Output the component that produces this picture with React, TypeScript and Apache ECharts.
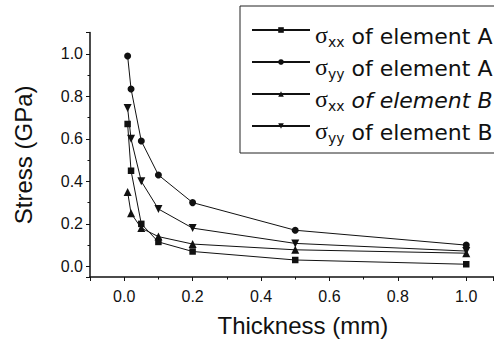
import React, { useEffect, useRef } from "react";
import * as echarts from "echarts";

const thickness = [0.01, 0.02, 0.05, 0.1, 0.2, 0.5, 1.0];
const sxxA = [0.67, 0.45, 0.2, 0.115, 0.07, 0.03, 0.01];
const syyA = [0.99, 0.835, 0.59, 0.43, 0.3, 0.17, 0.1];
const sxxB = [0.35, 0.25, 0.18, 0.14, 0.105, 0.078, 0.062];
const syyB = [0.745, 0.6, 0.4, 0.27, 0.18, 0.108, 0.072];

const seriesNames = [
  "σxx of element A",
  "σyy of element A",
  "σxx of element B",
  "σyy of element B",
];
const legendParts: Record<string, { sub: string; text: string; italic: boolean }> = {
  "σxx of element A": { sub: "xx", text: " of element A", italic: false },
  "σyy of element A": { sub: "yy", text: " of element A", italic: false },
  "σxx of element B": { sub: "xx", text: " of element B", italic: true },
  "σyy of element B": { sub: "yy", text: " of element B", italic: false },
};

const xTitle = "Thickness (mm)";
const yTitle = "Stress (GPa)";

const pairs = (ys: number[]) => thickness.map((x, i) => [x, ys[i]]);

export default function App() {
  const ref = useRef<HTMLDivElement>(null);
  useEffect(() => {
    if (!ref.current) return;
    const chart = echarts.init(ref.current, null, { renderer: "svg" });
    const ink = "#111";
    const mkSeries = (name: string, ys: number[], symbol: string, size: number, rotate = 0) => ({
      name,
      type: "line",
      data: pairs(ys),
      symbol,
      symbolSize: size,
      symbolRotate: rotate,
      showSymbol: true,
      lineStyle: { color: ink, width: 1 },
      itemStyle: { color: ink },
      emphasis: { disabled: true },
    });
    chart.setOption({
      animation: false,
      backgroundColor: "#fff",
      textStyle: { fontFamily: "Liberation Sans, Arial, sans-serif" },
      grid: { left: 90, right: 0.4, top: 32.6, bottom: 60.2, containLabel: false },
      legend: {
        orient: "vertical",
        left: 240,
        top: 6,
        padding: [7, 40, 8, 11],
        itemGap: -4,
        itemWidth: 58,
        itemHeight: 7,
        borderColor: "#222",
        borderWidth: 1,
        data: seriesNames,
        formatter: (name: string) => {
          const p = legendParts[name];
          return `{gap| }{s|σ}{sub|${p.sub}}{${p.italic ? "ti" : "t"}|${p.text}}`;
        },
        textStyle: {
          color: ink,
          rich: {
            gap: { fontSize: 1, lineHeight: 34, verticalAlign: "top", width: 0 },
            s: { fontFamily: "Liberation Serif", fontSize: 24, lineHeight: 28, verticalAlign: "bottom", color: ink },
            sub: { fontFamily: "DejaVu Sans", fontSize: 14, lineHeight: 14, height: 10, verticalAlign: "bottom", color: ink },
            t: { fontFamily: "DejaVu Sans", fontSize: 22, lineHeight: 28, verticalAlign: "bottom", color: ink },
            ti: { fontFamily: "DejaVu Sans", fontSize: 22, lineHeight: 28, verticalAlign: "bottom", fontStyle: "italic", color: ink },
          },
        },
      },
      xAxis: {
        type: "value",
        min: -0.1,
        max: 1.08,
        splitNumber: 5,
        name: xTitle,
        nameLocation: "middle",
        nameGap: 36,
        nameTextStyle: { fontSize: 24, color: ink, padding: [0, 0, 0, 22] },
        axisLine: { show: true, onZero: false, lineStyle: { color: ink, width: 1.5 } },
        axisTick: { show: true, inside: false, length: 4, lineStyle: { color: ink } },
        minorTick: { show: true, splitNumber: 2, length: 2.5, lineStyle: { color: ink } },
        axisLabel: {
          fontSize: 16,
          color: ink,
          margin: 11,
          showMinLabel: false,
          showMaxLabel: false,
          formatter: (v: number) => v.toFixed(1),
        },
        splitLine: { show: false },
      },
      yAxis: {
        type: "value",
        min: -0.05,
        max: 1.1,
        splitNumber: 5,
        name: yTitle,
        nameLocation: "middle",
        nameGap: 55,
        nameTextStyle: { fontSize: 24, color: ink },
        axisLine: { show: true, onZero: false, lineStyle: { color: ink, width: 1.5 } },
        axisTick: { show: true, inside: false, length: 4, lineStyle: { color: ink } },
        minorTick: { show: true, splitNumber: 2, length: 2.5, lineStyle: { color: ink } },
        axisLabel: {
          fontSize: 16,
          color: ink,
          margin: 7,
          showMinLabel: false,
          showMaxLabel: false,
          formatter: (v: number) => v.toFixed(1),
        },
        splitLine: { show: false },
      },
      series: [
        mkSeries(seriesNames[0], sxxA, "rect", 6.5),
        mkSeries(seriesNames[1], syyA, "circle", 7),
        mkSeries(seriesNames[2], sxxB, "triangle", 8),
        mkSeries(seriesNames[3], syyB, "triangle", 8, 180),
      ],
    });
    return () => chart.dispose();
  }, []);
  return (
    <div
      ref={ref}
      style={{ position: "fixed", left: 0, top: 0, width: 494, height: 342, background: "#fff" }}
    />
  );
}
